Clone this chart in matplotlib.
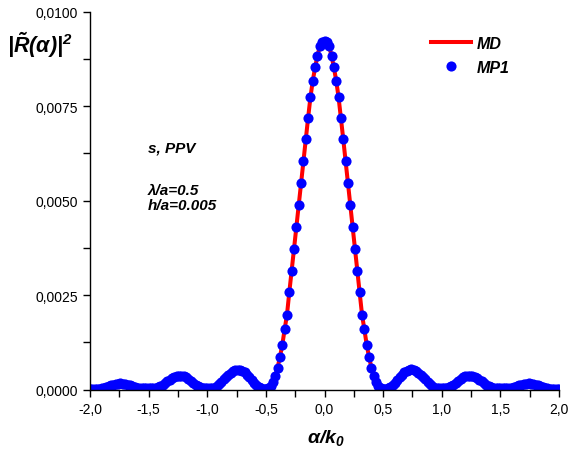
import numpy as np
import matplotlib
matplotlib.use("Agg")
import matplotlib.pyplot as plt
from matplotlib.ticker import FixedLocator, FixedFormatter, MultipleLocator

# ---------------- data ----------------
alpha = [
    -2.00, -1.98, -1.96, -1.94, -1.92, -1.90, -1.88, -1.86, -1.84, -1.82,
    -1.80, -1.78, -1.76, -1.74, -1.72, -1.70, -1.68, -1.66, -1.64, -1.62,
    -1.60, -1.58, -1.56, -1.54, -1.52, -1.50, -1.48, -1.46, -1.44, -1.42,
    -1.40, -1.38, -1.36, -1.34, -1.32, -1.30, -1.28, -1.26, -1.24, -1.22,
    -1.20, -1.18, -1.16, -1.14, -1.12, -1.10, -1.08, -1.06, -1.04, -1.02,
    -1.00, -0.98, -0.96, -0.94, -0.92, -0.90, -0.88, -0.86, -0.84, -0.82,
    -0.80, -0.78, -0.76, -0.74, -0.72, -0.70, -0.68, -0.66, -0.64, -0.62,
    -0.60, -0.58, -0.56, -0.54, -0.52, -0.50, -0.48, -0.46, -0.44, -0.42,
    -0.40, -0.38, -0.36, -0.34, -0.32, -0.30, -0.28, -0.26, -0.24, -0.22,
    -0.20, -0.18, -0.16, -0.14, -0.12, -0.10, -0.08, -0.06, -0.04, -0.02,
    0.00,
    0.02, 0.04, 0.06, 0.08, 0.10, 0.12, 0.14, 0.16, 0.18, 0.20,
    0.22, 0.24, 0.26, 0.28, 0.30, 0.32, 0.34, 0.36, 0.38, 0.40,
    0.42, 0.44, 0.46, 0.48, 0.50, 0.52, 0.54, 0.56, 0.58, 0.60,
    0.62, 0.64, 0.66, 0.68, 0.70, 0.72, 0.74, 0.76, 0.78, 0.80,
    0.82, 0.84, 0.86, 0.88, 0.90, 0.92, 0.94, 0.96, 0.98, 1.00,
    1.02, 1.04, 1.06, 1.08, 1.10, 1.12, 1.14, 1.16, 1.18, 1.20,
    1.22, 1.24, 1.26, 1.28, 1.30, 1.32, 1.34, 1.36, 1.38, 1.40,
    1.42, 1.44, 1.46, 1.48, 1.50, 1.52, 1.54, 1.56, 1.58, 1.60,
    1.62, 1.64, 1.66, 1.68, 1.70, 1.72, 1.74, 1.76, 1.78, 1.80,
    1.82, 1.84, 1.86, 1.88, 1.90, 1.92, 1.94, 1.96, 1.98, 2.00,
]

# |R(alpha)|^2 in units of 1e-3
r2_e3 = [
    0.020, 0.020, 0.020, 0.020, 0.025, 0.035, 0.050, 0.070, 0.090, 0.110,
    0.130, 0.145, 0.155, 0.160, 0.155, 0.145, 0.130, 0.110, 0.090, 0.070,
    0.050, 0.040, 0.035, 0.030, 0.030, 0.030, 0.030, 0.030, 0.040, 0.060,
    0.090, 0.130, 0.170, 0.220, 0.260, 0.300, 0.330, 0.350, 0.360, 0.360,
    0.350, 0.320, 0.280, 0.230, 0.180, 0.130, 0.090, 0.060, 0.040, 0.030,
    0.030, 0.030, 0.030, 0.050, 0.090, 0.140, 0.200, 0.270, 0.330, 0.390,
    0.440, 0.480, 0.510, 0.520, 0.520, 0.490, 0.450, 0.390, 0.320, 0.250,
    0.180, 0.120, 0.070, 0.040, 0.020, 0.020, 0.040, 0.100, 0.200, 0.350,
    0.580, 0.860, 1.180, 1.590, 1.980, 2.580, 3.140, 3.720, 4.300, 4.870,
    5.460, 6.050, 6.620, 7.180, 7.730, 8.170, 8.520, 8.830, 9.080, 9.180,
    9.210,
    9.180, 9.080, 8.830, 8.520, 8.170, 7.730, 7.180, 6.620, 6.050, 5.460,
    4.870, 4.300, 3.720, 3.140, 2.580, 1.980, 1.590, 1.180, 0.860, 0.580,
    0.350, 0.200, 0.100, 0.040, 0.020, 0.020, 0.040, 0.070, 0.120, 0.180,
    0.250, 0.320, 0.390, 0.450, 0.490, 0.520, 0.530, 0.520, 0.490, 0.440,
    0.390, 0.330, 0.270, 0.200, 0.140, 0.090, 0.050, 0.030, 0.030, 0.030,
    0.030, 0.040, 0.060, 0.090, 0.130, 0.180, 0.230, 0.280, 0.320, 0.350,
    0.360, 0.360, 0.350, 0.330, 0.300, 0.260, 0.220, 0.170, 0.130, 0.090,
    0.060, 0.040, 0.030, 0.030, 0.030, 0.030, 0.030, 0.035, 0.040, 0.050,
    0.070, 0.090, 0.110, 0.130, 0.145, 0.155, 0.160, 0.155, 0.145, 0.130,
    0.110, 0.090, 0.070, 0.050, 0.035, 0.025, 0.020, 0.020, 0.020, 0.020,
]

md_y = np.array(r2_e3) * 1e-3
mp1_y = np.array(r2_e3) * 1e-3

x_ticks = [-2.0, -1.5, -1.0, -0.5, 0.0, 0.5, 1.0, 1.5, 2.0]
x_tick_labels = ["-2,0", "-1,5", "-1,0", "-0,5", "0,0", "0,5", "1,0", "1,5", "2,0"]
y_ticks = [0.0, 0.0025, 0.005, 0.0075, 0.01]
y_tick_labels = ["0,0000", "0,0025", "0,0050", "0,0075", "0,0100"]

# ---------------- styling ----------------
plt.rcParams['font.family'] = ['Liberation Sans', 'DejaVu Sans']
plt.rcParams['mathtext.fontset'] = 'custom'
plt.rcParams['mathtext.rm'] = 'Liberation Sans:bold:italic'
plt.rcParams['mathtext.it'] = 'Liberation Sans:bold:italic'
plt.rcParams['mathtext.bf'] = 'Liberation Sans:bold:italic'

W, H = 577, 452
fig = plt.figure(figsize=(W / 100, H / 100), dpi=100)
ax_l, ax_r, ax_t, ax_b = 90, 559, 12.5, 390.5
ax = fig.add_axes([ax_l / W, 1 - ax_b / H, (ax_r - ax_l) / W, (ax_b - ax_t) / H])

line_md, = ax.plot(alpha, md_y, color='#ff0000', lw=2.9, zorder=2, label='MD')
dots, = ax.plot(alpha, mp1_y, 'o', color='#0000ff', ms=7.3, mec='none', zorder=3, label='MP1')

ax.set_xlim(-2, 2)
ax.set_ylim(0, 0.01)

for s in ['top', 'right']:
    ax.spines[s].set_visible(False)
for s in ['left', 'bottom']:
    ax.spines[s].set_linewidth(1.0)
    ax.spines[s].set_zorder(4)

ax.xaxis.set_major_locator(FixedLocator(x_ticks))
ax.xaxis.set_major_formatter(FixedFormatter(x_tick_labels))
ax.xaxis.set_minor_locator(MultipleLocator(0.25))
ax.yaxis.set_major_locator(FixedLocator(y_ticks))
ax.yaxis.set_major_formatter(FixedFormatter(y_tick_labels))
ax.yaxis.set_minor_locator(MultipleLocator(0.00125))
ax.tick_params(which='both', direction='out', length=5, width=1.0, labelsize=10)
ax.tick_params(axis='x', which='major', pad=4)
ax.tick_params(axis='y', which='major', pad=3.5)

# axis labels
fig.text(40 / W, 1 - 45 / H, r'$|\tilde{R}(\alpha)|^2$', fontsize=15.5,
         ha='center', va='center')
fig.text(326 / W, 1 - 438 / H, r'$\alpha/k_0$', fontsize=14,
         ha='center', va='center')

# annotations
txt_kw = dict(fontsize=11, fontweight='bold', fontstyle='italic',
              ha='left', va='center')
fig.text(148 / W, 1 - 148.5 / H, 's, PPV', **txt_kw)
fig.text(148 / W, 1 - 191 / H, 'λ/a=0.5', **txt_kw)
fig.text(148 / W, 1 - 206 / H, 'h/a=0.005', **txt_kw)

leg = ax.legend(handles=[line_md, dots], loc='upper left',
                bbox_to_anchor=((431 - ax_l) / (ax_r - ax_l), (ax_b - 37) / (ax_b - ax_t)),
                frameon=False, borderpad=0, borderaxespad=0, handlelength=2.5,
                handletextpad=0.35, labelspacing=0.55, numpoints=1,
                prop=dict(family='Liberation Sans', weight='bold', style='italic', size=11.5))

fig.savefig('out.png', dpi=100)
